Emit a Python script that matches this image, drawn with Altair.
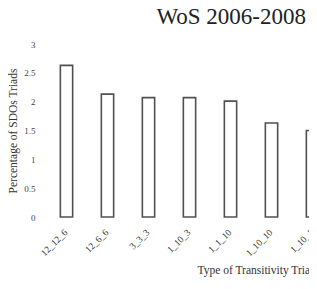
import altair as alt
import pandas as pd

categories = ["12_12_6", "12_6_6", "3_3_3", "1_10_3", "1_1_10", "1_10_10", "1_10_1"]
values = [2.63, 2.13, 2.07, 2.07, 2.01, 1.63, 1.50]
y_ticks = [0, 0.5, 1, 1.5, 2, 2.5, 3]

df = pd.DataFrame({"triad": categories, "pct": values})

FONT = "Liberation Serif"

chart = alt.Chart(df).mark_bar(
    fill="white", stroke="#505050", strokeWidth=1.6
).encode(
    x=alt.X(
        "triad:N",
        sort=categories,
        scale=alt.Scale(range=[4, 291], paddingInner=0.7, paddingOuter=0.35),
        axis=alt.Axis(
            title="Type of Transitivity  Triads",
            titleFont=FONT, titleFontSize=11.5, titleFontWeight="normal",
            titleColor="#333", titleX=155, titleY=53,
            titleAlign="left", titleBaseline="middle",
            labelFont=FONT, labelFontSize=9.5, labelColor="#333",
            labelAngle=-45, labelPadding=10, labelOffset=-4,
            domain=False, ticks=False, grid=False,
        ),
    ),
    y=alt.Y(
        "pct:Q",
        scale=alt.Scale(domain=[0, 3], nice=False),
        axis=alt.Axis(
            title="Percentage of SDOs Triads",
            titleFont=FONT, titleFontSize=11.5, titleFontWeight="normal",
            titleColor="#333", titleX=-29, titleY=86.5,
            titleAlign="center", titleBaseline="middle",
            values=y_ticks, format="~g",
            labelFont=FONT, labelFontSize=9, labelColor="#444",
            labelPadding=7,
            domain=False, ticks=False, grid=False,
        ),
    ),
).properties(
    width=267,
    height=173,
    title=alt.TitleParams(
        "WoS 2006-2008", font=FONT, fontSize=23, fontWeight="normal",
        color="#222", anchor="end", frame="group", offset=0,
        baseline="alphabetic", dx=-3, dy=7,
    ),
    autosize=alt.AutoSizeParams(type="none"),
    padding={"left": 34, "top": 36, "right": 0, "bottom": 72},
).configure_view(stroke=None)

chart.save("out.html", embed_options={"renderer": "svg", "actions": False})
